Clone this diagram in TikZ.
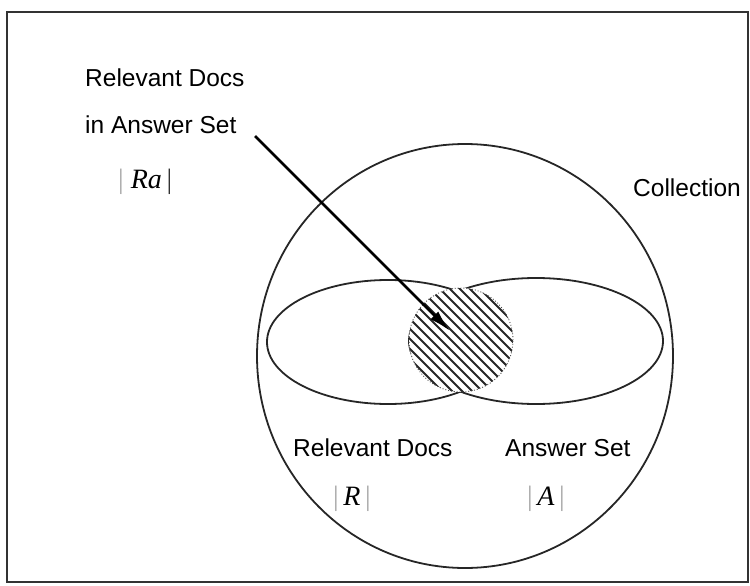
\documentclass[tikz,border=0pt]{standalone}
\usepackage{fontspec}
\setmainfont{Liberation Sans}
\newfontfamily\serifit{Liberation Serif}
\usetikzlibrary{arrows.meta}
\tikzset{
  lbl/.style={anchor=base west, inner sep=0pt, font=\fontsize{24.5}{29}\selectfont},
  sym/.style={anchor=base west, inner sep=0pt, font=\fontsize{28}{31}\selectfont\serifit\itshape},
  outline/.style={line width=1.8pt, draw=black!85},
  hatch/.style={line width=1.8pt, black!85},
}
\newcommand{\fbar}{\textcolor{black!35}{\upshape|}}
\begin{document}
\begin{tikzpicture}[x=1pt,y=-1pt]
\useasboundingbox (0,0) rectangle (750,586);
% frame
\draw[line width=1.3pt, black!80] (7,12) rectangle (748,582);
% collection circle
\draw[outline] (465,356) ellipse [x radius=208pt, y radius=212pt];
% relevant docs and answer set
\draw[outline] (388,342) ellipse [x radius=121pt, y radius=62pt];
\draw[outline] (536,341) ellipse [x radius=127pt, y radius=63pt];
% intersection
\node[circle, minimum size=104pt, inner sep=0pt, fill=white] (ra) at (461,340) {};
\begin{scope}
  \clip (461,340) circle [radius=52pt];
  \foreach \i in {-150,-140,...,150}
    \draw[hatch] (461+\i-70,270) -- (461+\i+70,410);
\end{scope}
\draw[line width=0.9pt, black!70, dotted] (ra.center) circle [radius=52pt];
% labels
\node[lbl] (rdtop) at (85,87) {Relevant Docs};
\node[lbl] (ras) at (85,133) {in Answer Set};
\node[sym] (rasym) at (118,188) {\fbar\ Ra\,\textcolor{black!80}{\upshape|}};
\node[lbl] (coll) at (633,196) {Collection};
\node[lbl] (rd) at (293,456) {Relevant Docs};
\node[lbl] (as) at (505,456) {Answer Set};
\node[sym] (rsym) at (333,505) {\fbar\,R\,\fbar};
\node[sym] (asym) at (527,505) {\fbar\,A\,\fbar};
% arrow
\coordinate (astart) at (255,136);
\coordinate (aend) at (450,331);
\draw[line width=2.6pt, -{Latex[length=22pt,width=11pt]}] (astart) -- (aend);
\end{tikzpicture}
\end{document}
